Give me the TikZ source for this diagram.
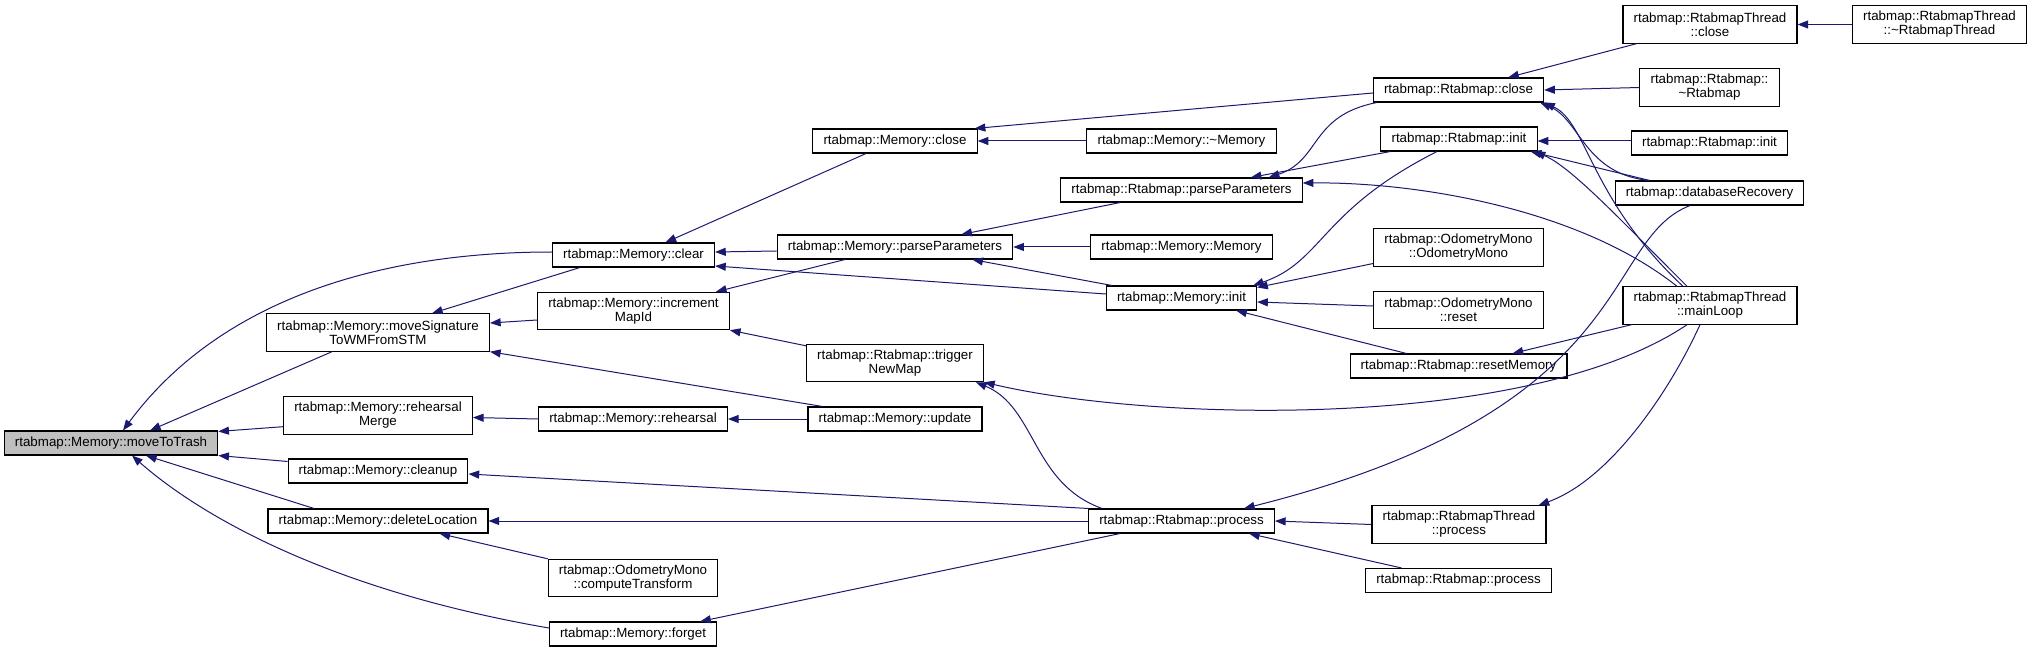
\documentclass[tikz,border=0pt]{standalone}
\usepackage{fontspec}
\setmainfont{Liberation Sans}
\usetikzlibrary{arrows.meta,calc}
\definecolor{callblue}{RGB}{25,25,112}
\definecolor{rootgray}{RGB}{191,191,191}
\tikzset{
    fn/.style={rectangle, draw=black, line width=0.8pt, fill=white, inner xsep=8pt, inner ysep=1pt, minimum height=18pt, align=center, font=\fontsize{10}{10.5}\selectfont},
    fnTwo/.style={fn, minimum height=28pt},
    fnRoot/.style={fn, fill=rootgray},
    call/.style={<-, >={Triangle[length=8pt,width=6pt]}, draw=callblue, line width=0.75pt},
}

\begin{document}
\begin{tikzpicture}[x=0.75pt, y=-0.75pt]
    \useasboundingbox (0,0) rectangle (2032,652);

    % Function boxes
    \node[fnRoot] (trash) at (111, 443) {rtabmap::Memory::moveToTrash};

    \node[fnTwo] (moveSig) at (378, 332.5) {rtabmap::Memory::moveSignature\\ToWMFromSTM};
    \node[fnTwo] (rehMerge) at (378, 415.5) {rtabmap::Memory::rehearsal\\Merge};
    \node[fn] (cleanup) at (378, 471) {rtabmap::Memory::cleanup};
    \node[fn] (delLoc) at (378, 521) {rtabmap::Memory::deleteLocation};

    \node[fn] (clear) at (633.5, 255) {rtabmap::Memory::clear};
    \node[fnTwo] (incMap) at (633.5, 311) {rtabmap::Memory::increment\\MapId};
    \node[fn] (rehearsal) at (633, 419) {rtabmap::Memory::rehearsal};
    \node[fnTwo] (compTf) at (633, 578) {rtabmap::OdometryMono\\::computeTransform};
    \node[fn] (forget) at (633, 634) {rtabmap::Memory::forget};

    \node[fn] (memClose) at (895, 141) {rtabmap::Memory::close};
    \node[fn] (memParse) at (895, 247) {rtabmap::Memory::parseParameters};
    \node[fnTwo] (trigger) at (895, 363) {rtabmap::Rtabmap::trigger\\NewMap};
    \node[fn] (update) at (895, 419) {rtabmap::Memory::update};

    \node[fn] (memDtor) at (1181.5, 141) {rtabmap::Memory::\textasciitilde Memory};
    \node[fn] (rtParse) at (1181.5, 190) {rtabmap::Rtabmap::parseParameters};
    \node[fn] (memCtor) at (1181.5, 247) {rtabmap::Memory::Memory};
    \node[fn] (memInit) at (1181.5, 298) {rtabmap::Memory::init};
    \node[fn] (rtProcess) at (1181.5, 521) {rtabmap::Rtabmap::process};

    \node[fn] (rtClose) at (1458.5, 90) {rtabmap::Rtabmap::close};
    \node[fn] (rtInit) at (1459, 139) {rtabmap::Rtabmap::init};
    \node[fnTwo] (odoCtor) at (1458.5, 247.5) {rtabmap::OdometryMono\\::OdometryMono};
    \node[fnTwo] (odoReset) at (1458.5, 310) {rtabmap::OdometryMono\\::reset};
    \node[fn] (resetMem) at (1458.5, 366) {rtabmap::Rtabmap::resetMemory};
    \node[fnTwo] (thProcess) at (1459, 524.5) {rtabmap::RtabmapThread\\::process};
    \node[fn] (rtProcessB) at (1458.5, 580.5) {rtabmap::Rtabmap::process};

    \node[fnTwo] (thClose) at (1710, 24.5) {rtabmap::RtabmapThread\\::close};
    \node[fnTwo] (thDtor) at (1939.5, 24.5) {rtabmap::RtabmapThread\\::\textasciitilde RtabmapThread};
    \node[fnTwo] (rtDtor) at (1709.5, 87.5) {rtabmap::Rtabmap::\\\textasciitilde Rtabmap};
    \node[fn] (rtInitB) at (1709.5, 143) {rtabmap::Rtabmap::init};
    \node[fn] (dbRecov) at (1709.5, 193) {rtabmap::databaseRecovery};
    \node[fnTwo] (mainLoop) at (1710, 305.5) {rtabmap::RtabmapThread\\::mainLoop};

    % Callers of moveToTrash
    \draw[call] ([shift={(12,0)}]trash.north) .. controls +(97,-131) and +(-172,0) .. ([shift={(0,-3)}]clear.west);
    \draw[call] ([shift={(39,0)}]trash.north) -- ([shift={(-46,0)}]moveSig.south);
    \draw[call] ([shift={(0,1)}]trash.north east) -- ([shift={(0,-8)}]rehMerge.south west);
    \draw[call] (trash.south east) -- ([shift={(0,3)}]cleanup.north west);
    \draw[call] ([shift={(35,0)}]trash.south) -- ([shift={(-64,0)}]delLoc.north);
    \draw[call] ([shift={(21,0)}]trash.south) .. controls +(68,60) and +(-220,-38) .. ([shift={(0,-6)}]forget.west);

    % Second column
    \draw[call] ([shift={(54,0)}]moveSig.north) -- ([shift={(28,0)}]clear.south west);
    \draw[call] ([shift={(0,-9.5)}]moveSig.east) -- ([shift={(0,9)}]incMap.west);
    \draw[call] (moveSig.south east) -- ([shift={(15,0)}]update.north west);
    \draw[call] ([shift={(0,2)}]rehMerge.east) -- (rehearsal.west);
    \draw[call] ([shift={(0,3)}]cleanup.east) -- (rtProcess.north west);
    \draw[call] (delLoc.east) -- (rtProcess.west);
    \draw[call] ([shift={(-49,0)}]delLoc.south east) -- (compTf.north west);

    % Third column
    \draw[call] ([shift={(32,0)}]clear.north) -- ([shift={(-29,0)}]memClose.south);
    \draw[call] ([shift={(0,-3)}]clear.east) -- ([shift={(0,4)}]memParse.west);
    \draw[call] ([shift={(0,11)}]clear.east) -- ([shift={(0,-4)}]memInit.west);
    \draw[call] ([shift={(-14,0)}]incMap.north east) -- ([shift={(-50,0)}]memParse.south);
    \draw[call] (incMap.south east) -- ([shift={(0,2)}]trigger.north west);
    \draw[call] (rehearsal.east) -- (update.west);
    \draw[call] ([shift={(-17,0)}]forget.north east) -- ([shift={(32,0)}]rtProcess.south west);

    % Fourth column
    \draw[call] ([shift={(-3,0)}]memClose.north east) -- ([shift={(0,3)}]rtClose.west);
    \draw[call] (memClose.east) -- (memDtor.west);
    \draw[call] ([shift={(-52,0)}]memParse.north east) -- ([shift={(60,0)}]rtParse.south west);
    \draw[call] (memParse.east) -- (memCtor.west);
    \draw[call] ([shift={(-41,0)}]memParse.south east) -- ([shift={(6,0)}]memInit.north west);
    \draw[call] ([shift={(-8,0)}]trigger.south east) .. controls +(60,25) and +(-70,-25) .. ([shift={(14,0)}]rtProcess.north west);
    \draw[call] (trigger.south east) .. controls +(170,40) and +(-157,106) .. ([shift={(-23,0)}]mainLoop.south);

    % Fifth column
    \draw[call] ([shift={(-34,0)}]rtParse.north east) .. controls +(52,-17) and +(-67,13) .. ([shift={(4,0)}]rtClose.south west);
    \draw[call] ([shift={(-52,0)}]rtParse.north east) -- ([shift={(10,0)}]rtInit.south west);
    \draw[call] ([shift={(0,-7)}]rtParse.east) .. controls +(116,-1) and +(-97,-77) .. ([shift={(-33,0)}]mainLoop.north);
    \draw[call] ([shift={(-4,0)}]memInit.north east) .. controls +(70,-24) and +(-117,59) .. ([shift={(-22,0)}]rtInit.south);
    \draw[call] ([shift={(0,2)}]memInit.north east) -- ([shift={(0,16)}]odoCtor.west);
    \draw[call] ([shift={(0,4)}]memInit.east) -- ([shift={(0,-4)}]odoReset.west);
    \draw[call] ([shift={(-21,0)}]memInit.south east) -- ([shift={(57,0)}]resetMem.north west);
    \draw[call] ([shift={(-31,0)}]rtProcess.north east) .. controls +(397,-99) and +(-90,35) .. ([shift={(-19.5,0)}]dbRecov.south);
    \draw[call] (rtProcess.east) -- (thProcess.west);
    \draw[call] ([shift={(-26,0)}]rtProcess.south east) -- ([shift={(-57,0)}]rtProcessB.north);

    % Sixth column
    \draw[call] ([shift={(-36,0)}]rtClose.north east) -- ([shift={(14,0)}]thClose.south west);
    \draw[call] (rtClose.east) -- (rtDtor.west);
    \draw[call] ([shift={(-4,0)}]rtClose.south east) .. controls +(40,17) and +(-65,-6) .. ([shift={(35,0)}]dbRecov.north west);
    \draw[call] (rtClose.south east) .. controls +(43,20) and +(-93,-87) .. ([shift={(-27,0)}]mainLoop.north);
    \draw[call] ([shift={(0,2)}]rtInit.east) -- ([shift={(0,-2)}]rtInitB.west);
    \draw[call] ([shift={(-7,0)}]rtInit.south east) -- ([shift={(35,0)}]dbRecov.north west);
    \draw[call] ([shift={(-3,0)}]rtInit.south east) .. controls +(36,15) and +(-67,-67) .. ([shift={(-23,0)}]mainLoop.north);
    \draw[call] ([shift={(-55,0)}]resetMem.north east) -- ([shift={(9,0)}]mainLoop.south west);
    \draw[call] ([shift={(-8,0)}]thProcess.north east) .. controls +(72,-26) and +(-30,66) .. ([shift={(-10,0)}]mainLoop.south);
    \draw[call] (thClose.east) -- (thDtor.west);
\end{tikzpicture}
\end{document}
